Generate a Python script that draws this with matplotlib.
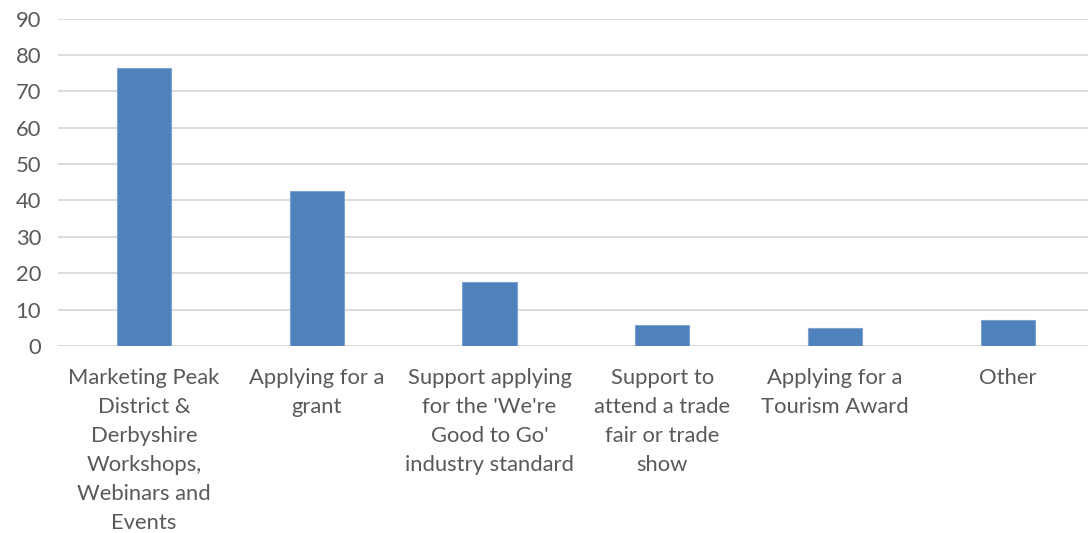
import matplotlib.pyplot as plt

categories = [
    "Marketing Peak\nDistrict &\nDerbyshire\nWorkshops,\nWebinars and\nEvents",
    "Applying for a\ngrant",
    "Support applying\nfor the 'We're\nGood to Go'\nindustry standard",
    "Support to\nattend a trade\nfair or trade\nshow",
    "Applying for a\nTourism Award",
    "Other",
]
values = [76.4, 42.6, 17.5, 5.7, 5.0, 7.1]
yticks = list(range(0, 91, 10))

plt.rcParams['font.family'] = ['Lato', 'DejaVu Sans']

fig = plt.figure(figsize=(10.88, 5.33), dpi=100)
ax = fig.add_axes([0.053, 0.351, 0.9526, 0.614])

x = range(len(categories))
ax.bar(x, values, width=0.315, color='#4F81BD', edgecolor='#7FA3D0', linewidth=0.8, zorder=3)

ax.set_xlim(-0.5, len(categories) - 0.5)
ax.set_ylim(0, 90)
ax.set_yticks(yticks)
ax.set_xticks(list(x))
ax.set_xticklabels(categories, linespacing=1.56, va='top')

ax.grid(axis='y', color='#D9D9D9', linewidth=1.3, zorder=0)
for s in ax.spines.values():
    s.set_visible(False)
ax.axhline(0, color='#D9D9D9', linewidth=1.3, zorder=1)

ax.tick_params(axis='both', length=0, labelsize=15.8, colors='#595959')
ax.tick_params(axis='y', pad=12)
ax.tick_params(axis='x', pad=16)

fig.savefig('out.png', dpi=100)
